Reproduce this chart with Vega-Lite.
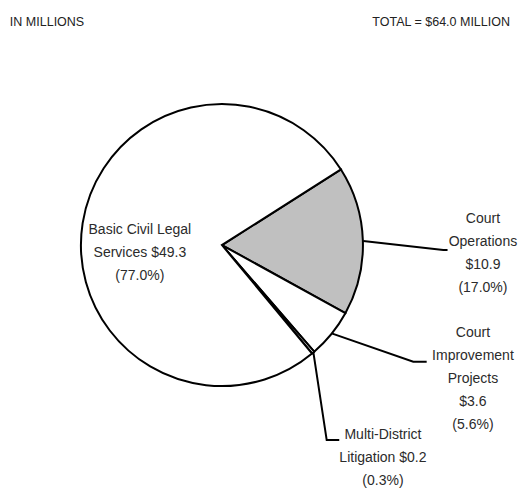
{
  "$schema": "https://vega.github.io/schema/vega-lite/v6.json",
  "width": 532,
  "height": 489,
  "autosize": {"type": "none"},
  "padding": 0,
  "background": "white",
  "config": {"view": {"stroke": null}, "font": "Liberation Sans, Arial, sans-serif"},
  "layer": [
    {
      "data": {"values": [
        {"category": "Court Operations", "value": 10.9, "ord": 1},
        {"category": "Court Improvement Projects", "value": 3.6, "ord": 2},
        {"category": "Multi-District Litigation", "value": 0.2, "ord": 3},
        {"category": "Basic Civil Legal Services", "value": 49.3, "ord": 4}
      ]},
      "mark": {"type": "arc", "outerRadius": 141, "stroke": "black", "strokeWidth": 2, "strokeJoin": "miter"},
      "encoding": {
        "x": {"datum": 0, "type": "quantitative", "scale": {"domain": [-1.574, 2.199], "nice": false, "zero": false}, "axis": null},
        "y": {"datum": 0, "type": "quantitative", "scale": {"domain": [-1.73, 1.738], "nice": false, "zero": false}, "axis": null},
        "theta": {"field": "value", "type": "quantitative", "stack": true, "scale": {"range": [1.005, 7.288]}},
        "order": {"field": "ord", "type": "quantitative"},
        "color": {"field": "category", "type": "nominal", "legend": null,
          "scale": {"domain": ["Court Operations", "Court Improvement Projects", "Multi-District Litigation", "Basic Civil Legal Services"],
                    "range": ["#c0c0c0", "white", "white", "white"]}}
      }
    },
    {
      "data": {"values": [
        {"seg": "ops", "i": 1, "u": 1.002, "v": 0.028},
        {"seg": "ops", "i": 2, "u": 1.570, "v": -0.035},
        {"seg": "ops", "i": 3, "u": 1.600, "v": -0.035},
        {"seg": "imp", "i": 1, "u": 0.778, "v": -0.626},
        {"seg": "imp", "i": 2, "u": 1.357, "v": -0.828},
        {"seg": "imp", "i": 3, "u": 1.452, "v": -0.828},
        {"seg": "mdl", "i": 1, "u": 0.648, "v": -0.757},
        {"seg": "mdl", "i": 2, "u": 0.743, "v": -1.383},
        {"seg": "mdl", "i": 3, "u": 0.832, "v": -1.383}
      ]},
      "mark": {"type": "line", "color": "black", "strokeWidth": 2},
      "encoding": {
        "x": {"field": "u", "type": "quantitative"},
        "y": {"field": "v", "type": "quantitative"},
        "detail": {"field": "seg"},
        "order": {"field": "i", "type": "quantitative"}
      }
    },
    {
      "data": {"values": [
        {"label": "Basic Civil Legal\nServices $49.3\n(77.0%)", "u": -0.582, "v": 0.106},
        {"label": "Court\nOperations\n$10.9\n(17.0%)", "u": 1.851, "v": 0.182},
        {"label": "Court\nImprovement\nProjects\n$3.6\n(5.6%)", "u": 1.78, "v": -0.624},
        {"label": "Multi-District\nLitigation $0.2\n(0.3%)", "u": 1.142, "v": -1.348}
      ]},
      "mark": {"type": "text", "lineBreak": "\n", "lineHeight": 23, "fontSize": 14, "align": "center", "baseline": "middle", "color": "#2b2b2b"},
      "encoding": {
        "x": {"field": "u", "type": "quantitative"},
        "y": {"field": "v", "type": "quantitative"},
        "text": {"field": "label"}
      }
    },
    {
      "data": {"values": [
        {"label": "IN MILLIONS", "u": -1.504, "v": 1.582}
      ]},
      "mark": {"type": "text", "fontSize": 12.5, "align": "left", "baseline": "middle", "color": "#222222"},
      "encoding": {
        "x": {"field": "u", "type": "quantitative"},
        "y": {"field": "v", "type": "quantitative"},
        "text": {"field": "label"}
      }
    },
    {
      "data": {"values": [
        {"label": "TOTAL = $64.0 MILLION", "u": 2.043, "v": 1.582}
      ]},
      "mark": {"type": "text", "fontSize": 12.5, "align": "right", "baseline": "middle", "color": "#222222"},
      "encoding": {
        "x": {"field": "u", "type": "quantitative"},
        "y": {"field": "v", "type": "quantitative"},
        "text": {"field": "label"}
      }
    }
  ]
}
